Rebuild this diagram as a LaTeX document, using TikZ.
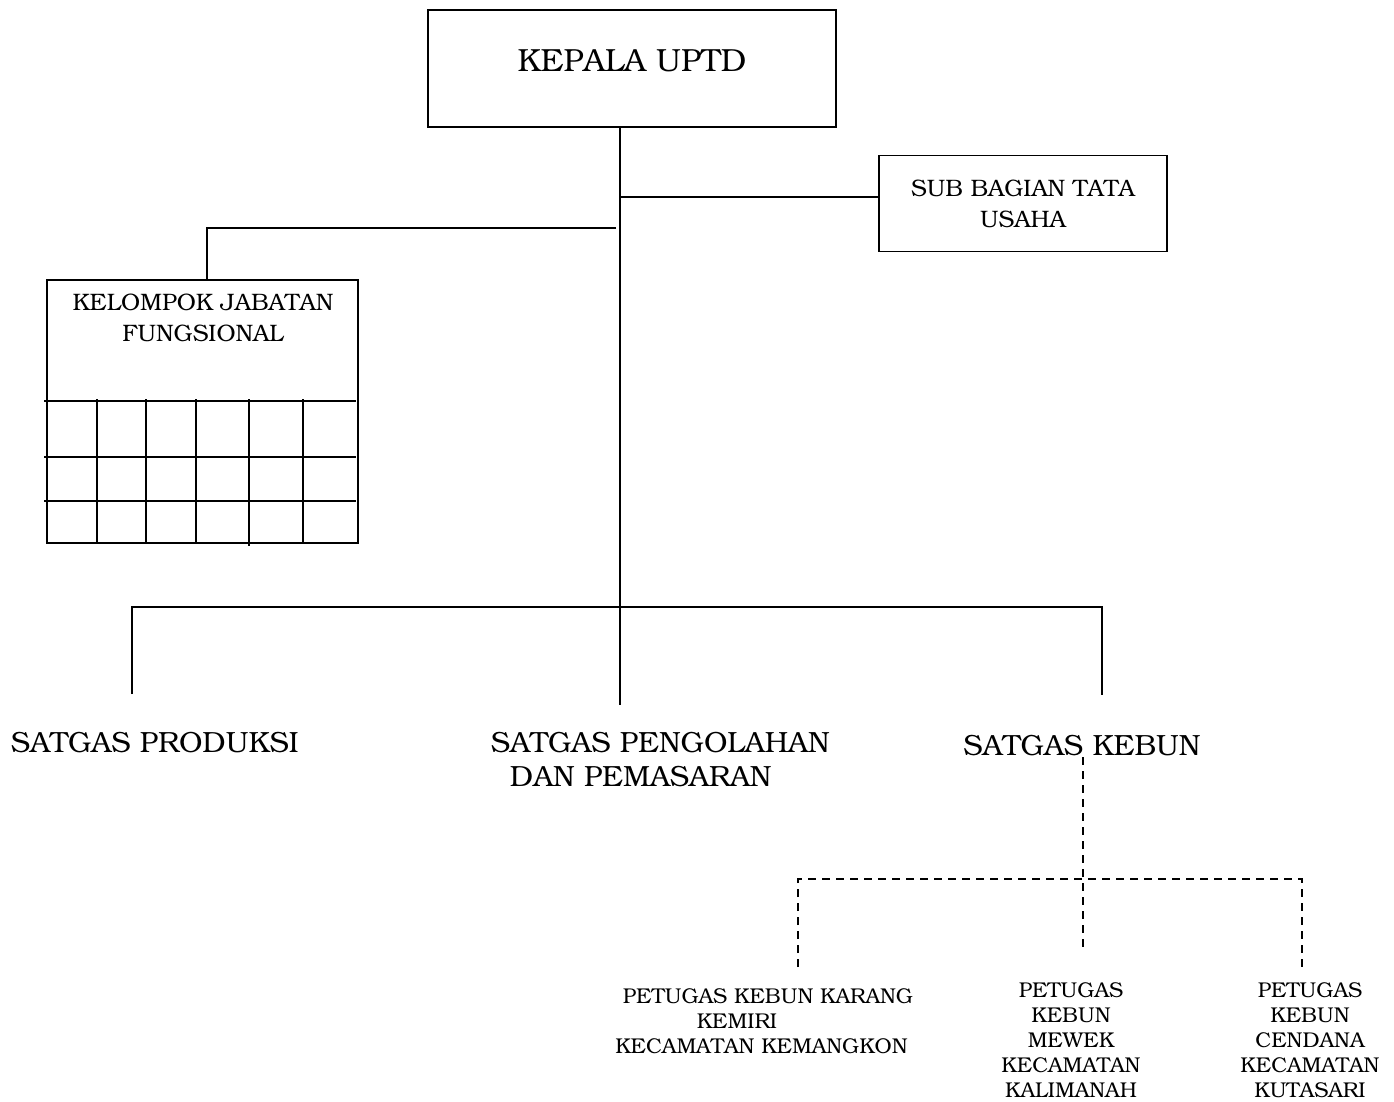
\documentclass[tikz,border=0pt]{standalone}
\usepackage[T1]{fontenc}
\usepackage{bookman}
\begin{document}
\begin{tikzpicture}[x = 0.5pt, y = -0.5pt, line width = 0.9pt,
        every node/.append style = {inner sep = 0pt, align = center},
        unitbox/.style = {draw, rectangle},
        toptext/.style = {font = \fontsize{16}{18}\selectfont},
        bigtext/.style = {font = \fontsize{14.6}{17}\selectfont},
        smalltext/.style = {font = \fontsize{11.9}{15.4}\selectfont},
        tinytext/.style = {font = \fontsize{10.7}{12.5}\selectfont},
        dashline/.style = {line width = 0.75pt, dash pattern = on 4pt off 3pt}]
    \useasboundingbox (0,0) rectangle (1394,1102);
    % boxes
    \node[unitbox, toptext, minimum width = 204pt, minimum height = 58.5pt, text depth = 8pt]
        (kepala) at (632,68.5) {KEPALA UPTD};
    \node[unitbox, smalltext, minimum width = 144pt, minimum height = 48pt]
        (subbag) at (1023,203.5) {SUB BAGIAN TATA\\USAHA};
    \node[unitbox, minimum width = 155.5pt, minimum height = 131.5pt]
        (kjf) at (202.5,411.5) {};
    \node[smalltext] (kjftext) at (203,318) {KELOMPOK JABATAN\\FUNGSIONAL};
    \foreach \y in {401, 457, 501}
        \draw (44,\y) -- (356,\y);
    \foreach \x in {97, 146, 196, 303}
        \draw (\x,399) -- (\x,543);
    \draw (249,399) -- (249,546);
    % satgas
    \node[bigtext, anchor = west] (produksi) at (10,743) {SATGAS PRODUKSI};
    \node[bigtext, anchor = west, align = left] (olah) at (490,760)
        {SATGAS PENGOLAHAN\\\hspace*{9.5pt}DAN PEMASARAN};
    \node[bigtext] (kebun) at (1082,746) {SATGAS KEBUN};
    % petugas
    \node[tinytext] (karang) at (761.5,1021)
        {\hspace*{6.5pt}PETUGAS KEBUN KARANG\\\hbox{KEMIRI\kern24.5pt}\\KECAMATAN KEMANGKON};
    \node[tinytext] (mewek) at (1071,1040)
        {PETUGAS\\KEBUN\\MEWEK\\KECAMATAN\\KALIMANAH};
    \node[tinytext] (cendana) at (1310,1040)
        {PETUGAS\\KEBUN\\CENDANA\\KECAMATAN\\KUTASARI};
    % connectors
    \coordinate (hub) at (620,607);
    \coordinate (kjfjoin) at (616,228);
    \coordinate (prodtop) at (132,694);
    \coordinate (olahtop) at (620,705);
    \coordinate (kebuntop) at (1102,695);
    \coordinate (kebunhub) at (1083,879);
    \coordinate (karangtop) at (798,967);
    \coordinate (mewektop) at (1083,948);
    \coordinate (cendanatop) at (1302,967);
    \draw (kepala.south -| hub) -- (hub);
    \draw ([yshift = 3.25pt]subbag.west -| hub) -- ([yshift = 3.25pt]subbag.west);
    \draw (kjfjoin) -| ([xshift = 2.25pt]kjf.north);
    \draw (prodtop) |- (hub) -| (kebuntop);
    \draw (hub) -- (olahtop);
    \draw[dashline] (kebun.south -| kebunhub) -- (mewektop);
    \draw[dashline] (karangtop) |- (kebunhub) -| (cendanatop);
\end{tikzpicture}
\end{document}
